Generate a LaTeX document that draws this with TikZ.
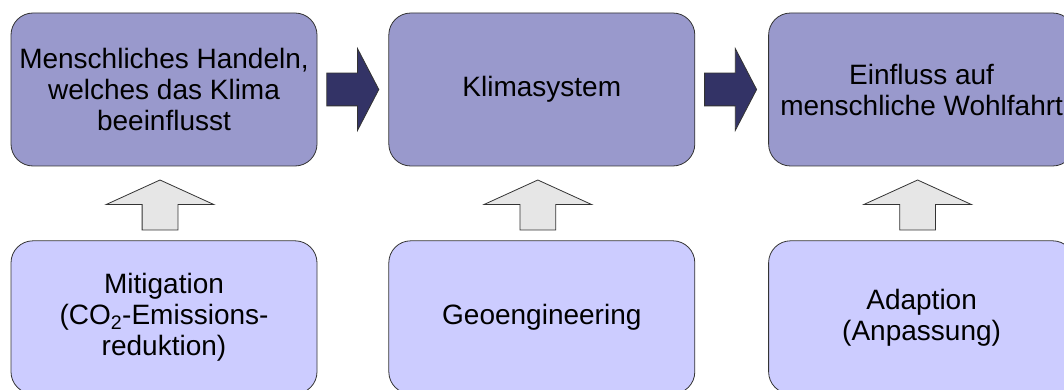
\documentclass[tikz,border=0pt]{standalone}
\usepackage{fontspec}
\setmainfont{Liberation Sans}
\usepackage{tikz}
\usetikzlibrary{shapes.arrows,positioning}
\definecolor{topblue}{HTML}{9999CC}
\definecolor{lowblue}{HTML}{CCCCFF}
\definecolor{darkarrow}{HTML}{333366}
\definecolor{greyarrow}{HTML}{E6E6E6}
\tikzstyle{box} = [draw=black!80,line width=0.8pt,rounded corners=22pt,minimum width=306pt,minimum height=153pt,inner sep=0pt,align=center,font=\fontsize{28}{31}\selectfont]
\tikzstyle{topbox} = [box,fill=topblue]
\tikzstyle{lowbox} = [box,fill=lowblue]
\tikzstyle{darrow} = [single arrow,draw=black!80,line width=0.8pt,fill=darkarrow,minimum height=52pt,single arrow head extend=24.5pt,single arrow tip angle=125,inner xsep=0pt,inner ysep=16pt]
\tikzstyle{uarrow} = [single arrow,shape border rotate=90,draw=black!80,line width=0.8pt,fill=greyarrow,minimum height=50pt,single arrow head extend=36pt,single arrow tip angle=131,inner xsep=17.5pt,inner ysep=0pt]
\begin{document}
\begin{tikzpicture}[x=1pt,y=1pt]
	\useasboundingbox (0,0) rectangle (1064,-390);
	\node[topbox] (hand) at (164,-89.5) {Menschliches Handeln,\\welches das Klima\\beeinflusst};
	\node[topbox,right=71pt of hand] (klima) {Klimasystem};
	\node[topbox,right=73pt of klima] (wohl) {Einfluss auf\\menschliche Wohlfahrt};
	\node[lowbox,below=74pt of hand] (mitig) {Mitigation\\(CO\textsubscript{2}-Emissions-\\reduktion)};
	\node[lowbox,below=74pt of klima] (geo) {Geoengineering};
	\node[lowbox,below=74pt of wohl] (adapt) {Adaption\\(Anpassung)};
	\node[darrow,right=9pt of hand] (hk) {};
	\node[darrow,right=9pt of klima] (kw) {};
	\node[uarrow,above=10pt of mitig,xshift=-4pt] (mh) {};
	\node[uarrow,above=10pt of geo,xshift=-4pt] (gk) {};
	\node[uarrow,above=10pt of adapt,xshift=-4pt] (aw) {};
\end{tikzpicture}
\end{document}
